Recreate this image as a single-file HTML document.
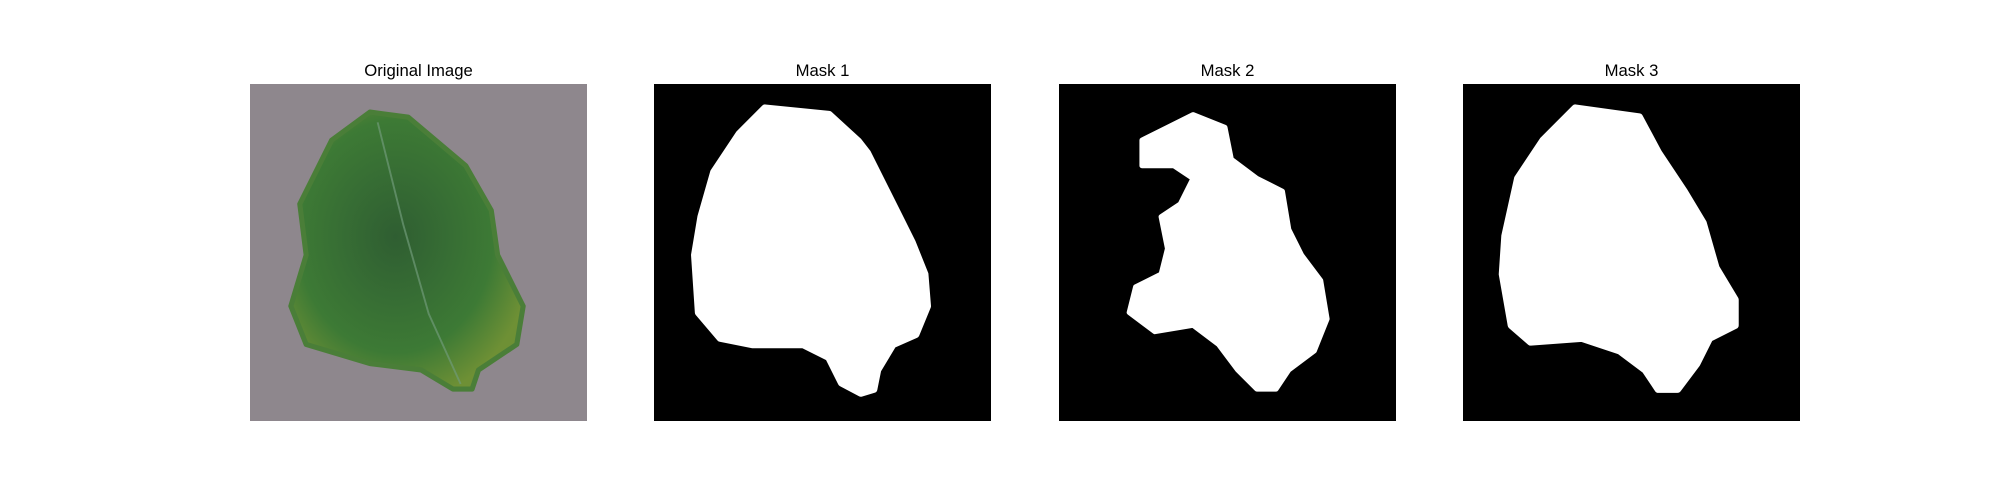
<!DOCTYPE html>
<html><head><meta charset="utf-8"><style>
body{margin:0;background:#fff;width:2000px;height:500px;position:relative;overflow:hidden;font-family:"Liberation Sans","DejaVu Sans",sans-serif}
.t{position:absolute;top:61px;width:337px;text-align:center;font-size:16.7px;color:#000}
svg.p{position:absolute;top:84px;width:337px;height:337px}
</style></head><body>
<div class="t" style="left:250px">Original Image</div>
<div class="t" style="left:654px">Mask 1</div>
<div class="t" style="left:1059px">Mask 2</div>
<div class="t" style="left:1463px">Mask 3</div>

<svg class="p" style="left:250px" viewBox="0 0 264 264" preserveAspectRatio="none">
<defs><radialGradient id="g" cx="0.45" cy="0.45" r="0.6"><stop offset="0" stop-color="#2f5e32"/><stop offset="0.7" stop-color="#3d7a35"/><stop offset="1" stop-color="#6e9035"/></radialGradient></defs>
<rect width="264" height="264" fill="#8e878d"/>
<path d="M94,22 L124,26 L169,64 L189,99 L194,134 L214,174 L209,204 L179,224 L174,239 L159,239 L134,224 L94,219 L44,204 L32,174 L44,134 L39,94 L64,44 Z" fill="url(#g)" stroke="#4a7e38" stroke-width="4" stroke-linejoin="round"/>
<path d="M100,30 L120,110 L140,180 L165,235" stroke="#6f9a78" stroke-width="1.5" fill="none" opacity="0.7"/>
</svg>

<svg class="p" style="left:654px" viewBox="0 0 264 264" preserveAspectRatio="none">
<rect width="264" height="264" fill="#000"/>
<path fill="#fff" stroke="#fff" stroke-width="6" stroke-linejoin="round" d="M87,19 L137,24 L160,45 L167,54 L177,74 L192,104 L202,124 L212,149 L214,174 L205,196 L187,204 L175,224 L172,239 L162,242 L147,234 L137,214 L117,204 L77,204 L52,199 L35,179 L32,134 L37,104 L47,69 L67,39 Z"/>
</svg>

<svg class="p" style="left:1059px" viewBox="0 0 264 264" preserveAspectRatio="none">
<rect width="264" height="264" fill="#000"/>
<path fill="#fff" stroke="#fff" stroke-width="4" stroke-linejoin="round" d="M105,24 L130,34 L135,59 L155,74 L175,84 L180,114 L190,134 L205,154 L210,184 L200,209 L180,224 L170,239 L155,239 L140,224 L125,204 L105,189 L75,194 L55,179 L60,159 L80,149 L85,129 L80,104 L95,94 L105,74 L90,64 L65,64 L65,44 L85,34 Z"/>
</svg>

<svg class="p" style="left:1463px" viewBox="0 0 264 264" preserveAspectRatio="none">
<rect width="264" height="264" fill="#000"/>
<path fill="#fff" stroke="#fff" stroke-width="6" stroke-linejoin="round" d="M88,19 L138,26 L153,54 L173,84 L188,109 L198,144 L213,169 L213,189 L193,199 L183,219 L168,239 L153,239 L143,224 L123,209 L93,199 L53,202 L38,189 L31,149 L33,119 L43,74 L63,44 Z"/>
</svg>
</body></html>
